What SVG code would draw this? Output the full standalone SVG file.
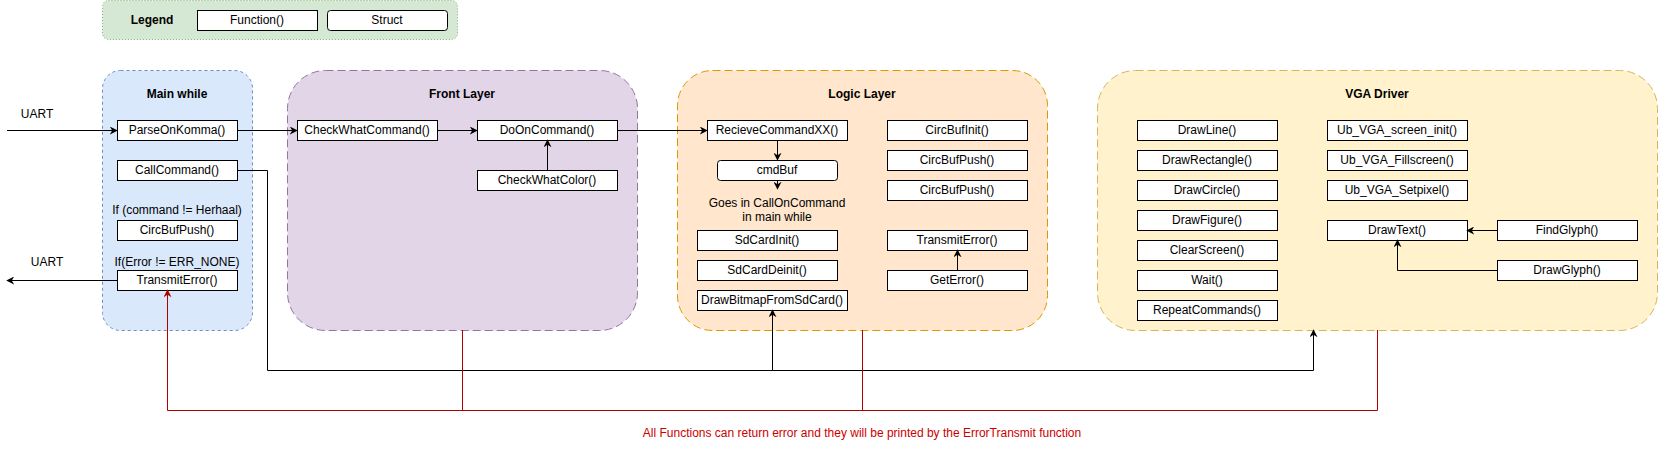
<svg xmlns="http://www.w3.org/2000/svg" width="1659" height="450" viewBox="0 0 1659 450">
<defs>
<style>
text{font-family:"Liberation Sans",Arial,Helvetica,sans-serif;font-size:12px;fill:#000;text-anchor:middle}
.t{font-weight:bold}
.fn{fill:#fff;stroke:#000;stroke-width:1}
.ln{fill:none;stroke:#000;stroke-width:1}
.er{fill:none;stroke:#B20000;stroke-width:1}
.red{fill:#CC0000}
</style>
<marker id="ah" viewBox="0 0 10 10" refX="9" refY="5" markerWidth="8" markerHeight="8" markerUnits="userSpaceOnUse" orient="auto">
<path d="M0,0 L10,5 L0,10 L3,5 z" fill="#000"/>
</marker>
<marker id="ahr" viewBox="0 0 10 10" refX="9" refY="5" markerWidth="8" markerHeight="8" markerUnits="userSpaceOnUse" orient="auto">
<path d="M0,0 L10,5 L0,10 L3,5 z" fill="#B20000"/>
</marker>
</defs>
<rect width="1659" height="450" fill="#fff"/>

<g id="legend">
<rect x="102.5" y="0.5" width="355" height="39" rx="6" fill="#d5e8d4" stroke="#82b366" stroke-dasharray="1 2"/>
<text x="152" y="24" class="t">Legend</text>
<rect class="fn" x="197.5" y="10.5" width="120" height="20"/>
<text x="257" y="24">Function()</text>
<rect class="fn" x="327.5" y="10.5" width="120" height="20" rx="3"/>
<text x="387" y="24">Struct</text>
</g>

<g id="main-while">
<rect x="102.5" y="70.5" width="150" height="260" rx="18" fill="#dae8fc" stroke="#6c8ebf" stroke-dasharray="3 3"/>
<text x="177" y="98" class="t">Main while</text>
</g>
<g id="front-layer">
<rect x="287.5" y="70.5" width="350" height="260" rx="38" fill="#e1d5e7" stroke="#9673a6" stroke-dasharray="8 4"/>
<text x="462" y="98" class="t">Front Layer</text>
</g>
<g id="logic-layer">
<rect x="677.5" y="70.5" width="370" height="260" rx="35" fill="#ffe6cc" stroke="#d79b00" stroke-dasharray="8 4"/>
<text x="862" y="98" class="t">Logic Layer</text>
</g>
<g id="vga-driver">
<rect x="1097.5" y="70.5" width="560" height="260" rx="38" fill="#fff2cc" stroke="#d6b656" stroke-dasharray="8 4"/>
<text x="1377" y="98" class="t">VGA Driver</text>
</g>

<g id="uart-labels">
<text x="37" y="118">UART</text>
<text x="47" y="266">UART</text>
<text x="177" y="214">If (command != Herhaal)</text>
<text x="177" y="266">If(Error != ERR_NONE)</text>
<text x="777" y="207">Goes in CallOnCommand</text>
<text x="777" y="221">in main while</text>
</g>

<g id="n-parse"><rect class="fn" x="117.5" y="120.5" width="120" height="20"/><text x="177" y="134">ParseOnKomma()</text></g>
<g id="n-callcommand"><rect class="fn" x="117.5" y="160.5" width="120" height="20"/><text x="177" y="174">CallCommand()</text></g>
<g id="n-circbufpush-main"><rect class="fn" x="117.5" y="220.5" width="120" height="20"/><text x="177" y="234">CircBufPush()</text></g>
<g id="n-transmit-main"><rect class="fn" x="117.5" y="270.5" width="120" height="20"/><text x="177" y="284">TransmitError()</text></g>

<g id="n-checkwhatcommand"><rect class="fn" x="297.5" y="120.5" width="140" height="20"/><text x="367" y="134">CheckWhatCommand()</text></g>
<g id="n-dooncommand"><rect class="fn" x="477.5" y="120.5" width="140" height="20"/><text x="547" y="134">DoOnCommand()</text></g>
<g id="n-checkwhatcolor"><rect class="fn" x="477.5" y="170.5" width="140" height="20"/><text x="547" y="184">CheckWhatColor()</text></g>

<g id="n-recieve"><rect class="fn" x="707.5" y="120.5" width="140" height="20"/><text x="777" y="134">RecieveCommandXX()</text></g>
<g id="n-cmdbuf"><rect class="fn" x="717.5" y="160.5" width="120" height="20" rx="3"/><text x="777" y="174">cmdBuf</text></g>
<g id="n-sdcardinit"><rect class="fn" x="697.5" y="230.5" width="140" height="20"/><text x="767" y="244">SdCardInit()</text></g>
<g id="n-sdcarddeinit"><rect class="fn" x="697.5" y="260.5" width="140" height="20"/><text x="767" y="274">SdCardDeinit()</text></g>
<g id="n-drawbitmap"><rect class="fn" x="697.5" y="290.5" width="150" height="20"/><text x="772" y="304">DrawBitmapFromSdCard()</text></g>
<g id="n-circbufinit"><rect class="fn" x="887.5" y="120.5" width="140" height="20"/><text x="957" y="134">CircBufInit()</text></g>
<g id="n-circbufpush1"><rect class="fn" x="887.5" y="150.5" width="140" height="20"/><text x="957" y="164">CircBufPush()</text></g>
<g id="n-circbufpush2"><rect class="fn" x="887.5" y="180.5" width="140" height="20"/><text x="957" y="194">CircBufPush()</text></g>
<g id="n-transmit-logic"><rect class="fn" x="887.5" y="230.5" width="140" height="20"/><text x="957" y="244">TransmitError()</text></g>
<g id="n-geterror"><rect class="fn" x="887.5" y="270.5" width="140" height="20"/><text x="957" y="284">GetError()</text></g>

<g id="n-drawline"><rect class="fn" x="1137.5" y="120.5" width="140" height="20"/><text x="1207" y="134">DrawLine()</text></g>
<g id="n-drawrect"><rect class="fn" x="1137.5" y="150.5" width="140" height="20"/><text x="1207" y="164">DrawRectangle()</text></g>
<g id="n-drawcircle"><rect class="fn" x="1137.5" y="180.5" width="140" height="20"/><text x="1207" y="194">DrawCircle()</text></g>
<g id="n-drawfigure"><rect class="fn" x="1137.5" y="210.5" width="140" height="20"/><text x="1207" y="224">DrawFigure()</text></g>
<g id="n-clearscreen"><rect class="fn" x="1137.5" y="240.5" width="140" height="20"/><text x="1207" y="254">ClearScreen()</text></g>
<g id="n-wait"><rect class="fn" x="1137.5" y="270.5" width="140" height="20"/><text x="1207" y="284">Wait()</text></g>
<g id="n-repeat"><rect class="fn" x="1137.5" y="300.5" width="140" height="20"/><text x="1207" y="314">RepeatCommands()</text></g>
<g id="n-screeninit"><rect class="fn" x="1327.5" y="120.5" width="140" height="20"/><text x="1397" y="134">Ub_VGA_screen_init()</text></g>
<g id="n-fillscreen"><rect class="fn" x="1327.5" y="150.5" width="140" height="20"/><text x="1397" y="164">Ub_VGA_Fillscreen()</text></g>
<g id="n-setpixel"><rect class="fn" x="1327.5" y="180.5" width="140" height="20"/><text x="1397" y="194">Ub_VGA_Setpixel()</text></g>
<g id="n-drawtext"><rect class="fn" x="1327.5" y="220.5" width="140" height="20"/><text x="1397" y="234">DrawText()</text></g>
<g id="n-findglyph"><rect class="fn" x="1497.5" y="220.5" width="140" height="20"/><text x="1567" y="234">FindGlyph()</text></g>
<g id="n-drawglyph"><rect class="fn" x="1497.5" y="260.5" width="140" height="20"/><text x="1567" y="274">DrawGlyph()</text></g>

<g id="connectors">
<path class="ln" d="M7,130.5 H117" marker-end="url(#ah)"/>
<path class="ln" d="M237,130.5 H297" marker-end="url(#ah)"/>
<path class="ln" d="M437,130.5 H477" marker-end="url(#ah)"/>
<path class="ln" d="M547.5,170 V140" marker-end="url(#ah)"/>
<path class="ln" d="M617,130.5 H707" marker-end="url(#ah)"/>
<path class="ln" d="M777.5,140 V160" marker-end="url(#ah)"/>
<path class="ln" d="M777.5,180 V189" marker-end="url(#ah)"/>
<path class="ln" d="M957.5,270 V250" marker-end="url(#ah)"/>
<path class="ln" d="M117,280.5 H7" marker-end="url(#ah)"/>
<path class="ln" d="M237,170.5 H267.5 V370.5 H1313.5 V330" marker-end="url(#ah)"/>
<path class="ln" d="M772.5,370.5 V310" marker-end="url(#ah)"/>
<path class="ln" d="M1497,230.5 H1467" marker-end="url(#ah)"/>
<path class="ln" d="M1497,270.5 H1397.5 V240" marker-end="url(#ah)"/>
<path class="er" d="M462.5,330 V410.5"/>
<path class="er" d="M862.5,330 V410.5"/>
<path class="er" d="M1377.5,330 V410.5 H167.5 V290" marker-end="url(#ahr)"/>
</g>
<text x="862" y="437" class="red">All Functions can return error and they will be printed by the ErrorTransmit function</text>
</svg>
